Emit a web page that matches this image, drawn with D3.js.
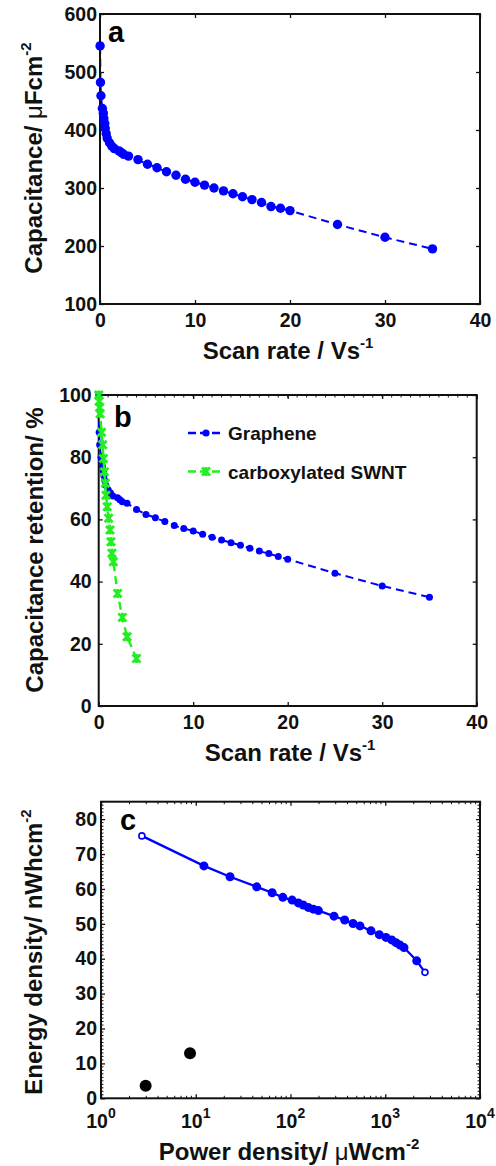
<!DOCTYPE html>
<html>
<head>
<meta charset="utf-8">
<script src="https://cdn.jsdelivr.net/npm/d3@7"></script>
<style>
  body { margin: 0; background: #fff; }
  text { font-family: "Liberation Sans", Arial, sans-serif; font-weight: bold; }
</style>
</head>
<body>
<script>
// panel a: capacitance vs scan rate
const scanRate = [0.01, 0.05, 0.1, 0.25, 0.35, 0.4, 0.5, 0.55, 0.65, 0.75, 1, 1.25, 1.5, 2, 2.25, 2.5, 3,
  4, 5, 6, 7, 8, 9, 10, 11, 12, 13, 14, 15, 16, 17, 18, 19, 20, 25, 30, 35];
const capacitance = [545, 482, 459, 437, 429, 420, 411, 403, 394, 386, 378, 372, 368, 364, 361, 358, 355,
  349, 341, 335, 328, 322, 315, 310, 305, 300, 295, 290, 285, 280, 275, 268, 265, 261, 237, 215, 195];

// panel b: capacitance retention
const grapheneRetention = [100, 88, 84, 80, 78.5, 77, 75.5, 74, 72.5, 71, 69.5, 68.5, 67.5, 67, 66.3, 65.7, 65.2,
  63.2, 61.6, 60.5, 59.3, 58, 57.1, 56.3, 55.2, 54.3, 53.4, 52.5, 51.7, 50.7, 49.8, 49, 48.1, 47.2, 42.7, 38.6, 35];
const swntRate = [0.01, 0.05, 0.1, 0.15, 0.3, 0.42, 0.5, 0.6, 0.7, 0.77, 0.9, 1.05, 1.2, 1.3, 1.4, 1.55, 2, 2.5, 3, 4];
const swntRetention = [100, 98, 96, 94, 88, 84, 79.6, 75.3, 71.6, 67.8, 64.1, 60.4, 56.6, 52.8, 49.1, 46.4, 36.2, 28.5, 22.3, 15.3];

// panel c: Ragone plot
const powerDensity = [2.7, 12.2, 23, 44, 64, 83, 104, 121, 136, 154, 174, 197, 288, 373, 457, 541, 707, 866,
  1019, 1170, 1298, 1431, 1577, 2148, 2625];
const energyDensity = [75.2, 66.6, 63.5, 60.6, 58.9, 57.6, 56.8, 56.0, 55.4, 54.7, 54.2, 53.8, 52.2, 51.1, 50.1,
  49.4, 48.0, 46.9, 46.1, 45.4, 44.6, 43.9, 43.2, 39.4, 36.1];
const otherPower = [2.96, 8.7];
const otherEnergy = [3.6, 12.9];

const xTicksAB = [0, 10, 20, 30, 40];
const yTicksA = [100, 200, 300, 400, 500, 600];
const yTicksB = [0, 20, 40, 60, 80, 100];
const yTicksC = [0, 10, 20, 30, 40, 50, 60, 70, 80];
const xTicksC = [1, 10, 100, 1000, 10000];
const legendLabels = ["Graphene", "carboxylated SWNT"];

const blue = "#0000ff", green = "#22ee22";
const tickFont = 19.5, titleFont = 24;

const svg = d3.select("body").append("svg")
  .attr("width", 496).attr("height", 1166);

// draws box + inward ticks on all sides
function frame(g, x, y, o) {
  const [x0, x1] = x.range(), [y1, y0] = y.range();
  const bottom = d3.axisBottom(x).tickValues(o.xt).tickSize(-4).tickSizeOuter(0).tickPadding(o.xpad);
  if (o.xfmt) bottom.tickFormat(o.xfmt);
  g.append("g").attr("transform", `translate(0,${y1})`).call(bottom)
    .call(s => s.select(".domain").remove())
    .call(s => s.selectAll("text").attr("font-size", tickFont).attr("fill", "#111"));
  g.append("g").attr("transform", `translate(0,${y0})`)
    .call(d3.axisTop(x).tickValues(o.xt).tickSize(-4).tickFormat(""))
    .call(s => s.select(".domain").remove());
  g.append("g").attr("transform", `translate(${x0},0)`)
    .call(d3.axisLeft(y).tickValues(o.yt).tickSize(-4).tickPadding(o.ypad))
    .call(s => s.select(".domain").remove())
    .call(s => s.selectAll("text").attr("font-size", tickFont).attr("fill", "#111"));
  g.append("g").attr("transform", `translate(${x1},0)`)
    .call(d3.axisRight(y).tickValues(o.yt).tickSize(-4).tickFormat(""))
    .call(s => s.select(".domain").remove());
  g.selectAll(".tick line").attr("stroke", "#111").attr("stroke-width", 1.3);
  g.append("rect").attr("x", x0).attr("y", y0).attr("width", x1 - x0).attr("height", y1 - y0)
    .attr("fill", "none").attr("stroke", "#111").attr("stroke-width", 2);
}

// small minor ticks on one side
function minor(g, x, y, vals, side) {
  const [x0, x1] = x.range(), [y1, y0] = y.range();
  vals.forEach(v => {
    if (side === "top") g.append("line").attr("x1", x(v)).attr("x2", x(v)).attr("y1", y0).attr("y2", y0 + 2.5);
    if (side === "bottom") g.append("line").attr("x1", x(v)).attr("x2", x(v)).attr("y1", y1).attr("y2", y1 - 2.5);
    if (side === "left") g.append("line").attr("y1", y(v)).attr("y2", y(v)).attr("x1", x0).attr("x2", x0 + 2.5);
    if (side === "right") g.append("line").attr("y1", y(v)).attr("y2", y(v)).attr("x1", x1).attr("x2", x1 - 2.5);
  });
}

function title(g, x, y, main, sup, rotate) {
  const t = g.append("text").attr("font-size", titleFont).attr("fill", "#111").attr("text-anchor", "middle")
    .attr("transform", `translate(${x},${y})` + (rotate ? " rotate(-90)" : ""));
  main.forEach(p => t.append("tspan").text(p.t).attr("font-weight", p.w || "bold"));
  if (sup) t.append("tspan").text(sup).attr("font-size", 15).attr("dy", -11);
}

// ---------- panel a ----------
{
  const g = svg.append("g");
  const x = d3.scaleLinear().domain([0, 40]).range([100, 480]);
  const y = d3.scaleLinear().domain([100, 600]).range([304, 14]);
  const pts = scanRate.map((d, i) => [d, capacitance[i]]);
  g.append("path").datum(pts)
    .attr("d", d3.line().x(d => x(d[0])).y(d => y(d[1])))
    .attr("fill", "none").attr("stroke", blue).attr("stroke-width", 2).attr("stroke-dasharray", "8,5");
  frame(g, x, y, { xt: xTicksAB, yt: yTicksA, xpad: 9, ypad: 3 });
  g.selectAll("circle.pa").data(pts).join("circle")
    .attr("cx", d => x(d[0])).attr("cy", d => y(d[1])).attr("r", 4.7).attr("fill", blue);
  g.append("text").attr("x", 108).attr("y", 42).attr("font-size", 29).text("a");
  title(g, 288, 359, [{ t: "Scan rate / Vs" }], "-1");
  title(g, 42, 158, [{ t: "Capacitance/ " }, { t: "μ", w: "normal" }, { t: "Fcm" }], "-2", true);
}

// ---------- panel b ----------
{
  const g = svg.append("g");
  const x = d3.scaleLinear().domain([0, 40]).range([98.7, 476.7]);
  const y = d3.scaleLinear().domain([0, 100]).range([706, 395]);
  frame(g, x, y, { xt: xTicksAB, yt: yTicksB, xpad: 9, ypad: 7 });
  minor(g.append("g").attr("stroke", "#111").attr("stroke-width", 1), x, y, d3.range(1, 40), "top");
  const gp = scanRate.map((d, i) => [d, grapheneRetention[i]]);
  const sp = swntRate.map((d, i) => [d, swntRetention[i]]);
  const line = d3.line().x(d => x(d[0])).y(d => y(d[1]));
  g.append("path").datum(gp).attr("d", line).attr("fill", "none")
    .attr("stroke", blue).attr("stroke-width", 2).attr("stroke-dasharray", "8,5");
  g.selectAll("circle.pb").data(gp).join("circle")
    .attr("cx", d => x(d[0])).attr("cy", d => y(d[1])).attr("r", 3.5).attr("fill", blue);
  g.append("path").datum(sp).attr("d", line).attr("fill", "none")
    .attr("stroke", green).attr("stroke-width", 2.4).attr("stroke-dasharray", "8,5");
  const cross = "M-4,-4L4,4M-4,4L4,-4M0,-4.5L0,4.5";
  g.selectAll("path.xm").data(sp).join("path").attr("class", "xm")
    .attr("d", cross).attr("transform", d => `translate(${x(d[0])},${y(d[1])})`)
    .attr("stroke", green).attr("stroke-width", 2.8).attr("fill", "none");
  // legend
  const lg = g.append("g");
  [[blue, 433], [green, 471.5]].forEach(([c, ly], i) => {
    lg.append("line").attr("x1", 188).attr("x2", 221).attr("y1", ly).attr("y2", ly)
      .attr("stroke", c).attr("stroke-width", 2.4).attr("stroke-dasharray", "8,4");
    if (i === 0) lg.append("circle").attr("cx", 206).attr("cy", ly).attr("r", 3.6).attr("fill", c);
    else lg.append("path").attr("d", cross).attr("transform", `translate(206,${ly})`)
      .attr("stroke", c).attr("stroke-width", 2.8).attr("fill", "none");
    lg.append("text").attr("x", 228).attr("y", ly + 7).attr("font-size", 19).attr("fill", "#111")
      .text(legendLabels[i]);
  });
  g.append("text").attr("x", 114).attr("y", 427).attr("font-size", 29).text("b");
  title(g, 290, 761, [{ t: "Scan rate / Vs" }], "-1");
  title(g, 43, 550, [{ t: "Capacitance retention/ %" }], null, true);
}

// ---------- panel c ----------
{
  const g = svg.append("g");
  const x = d3.scaleLog().domain([1, 10000]).range([101, 480]);
  const y = d3.scaleLinear().domain([0, 85]).range([1098.3, 801.7]);
  frame(g, x, y, { xt: xTicksC, yt: yTicksC, xpad: 12, ypad: 4, xfmt: () => "" });
  const mg = g.append("g").attr("stroke", "#111").attr("stroke-width", 1);
  const logMinor = [];
  [1, 10, 100, 1000].forEach(b => d3.range(2, 10).forEach(k => logMinor.push(b * k)));
  minor(mg, x, y, logMinor, "top");
  minor(mg, x, y, logMinor, "bottom");
  const yMinor = d3.range(1, 86).filter(v => v % 10 !== 0);
  minor(mg, x, y, yMinor, "left");
  minor(mg, x, y, yMinor, "right");
  // x tick labels 10^n
  xTicksC.forEach((v, i) => {
    const t = g.append("text").attr("x", x(v)).attr("y", 1128).attr("text-anchor", "middle")
      .attr("font-size", tickFont).attr("fill", "#111");
    t.append("tspan").text("10");
    t.append("tspan").text(i).attr("font-size", 14).attr("dy", -10);
  });
  const pts = powerDensity.map((d, i) => [d, energyDensity[i]]);
  g.append("path").datum(pts)
    .attr("d", d3.line().x(d => x(d[0])).y(d => y(d[1])))
    .attr("fill", "none").attr("stroke", blue).attr("stroke-width", 2.3);
  g.selectAll("circle.pc").data(pts).join("circle")
    .attr("cx", d => x(d[0])).attr("cy", d => y(d[1]))
    .attr("r", (d, i) => (i === 0 || i === pts.length - 1) ? 3 : 3.7)
    .attr("fill", (d, i) => (i === 0 || i === pts.length - 1) ? "#fff" : blue)
    .attr("stroke", blue).attr("stroke-width", 1.6);
  g.selectAll("circle.ot").data(otherPower).join("circle")
    .attr("cx", d => x(d)).attr("cy", (d, i) => y(otherEnergy[i])).attr("r", 6).attr("fill", "#000");
  g.append("text").attr("x", 120).attr("y", 830).attr("font-size", 29).text("c");
  title(g, 289, 1160, [{ t: "Power density/ " }, { t: "μ", w: "normal" }, { t: "Wcm" }], "-2");
  title(g, 42, 952, [{ t: "Energy density/ nWhcm" }], "-2", true);
}
</script>
</body>
</html>
